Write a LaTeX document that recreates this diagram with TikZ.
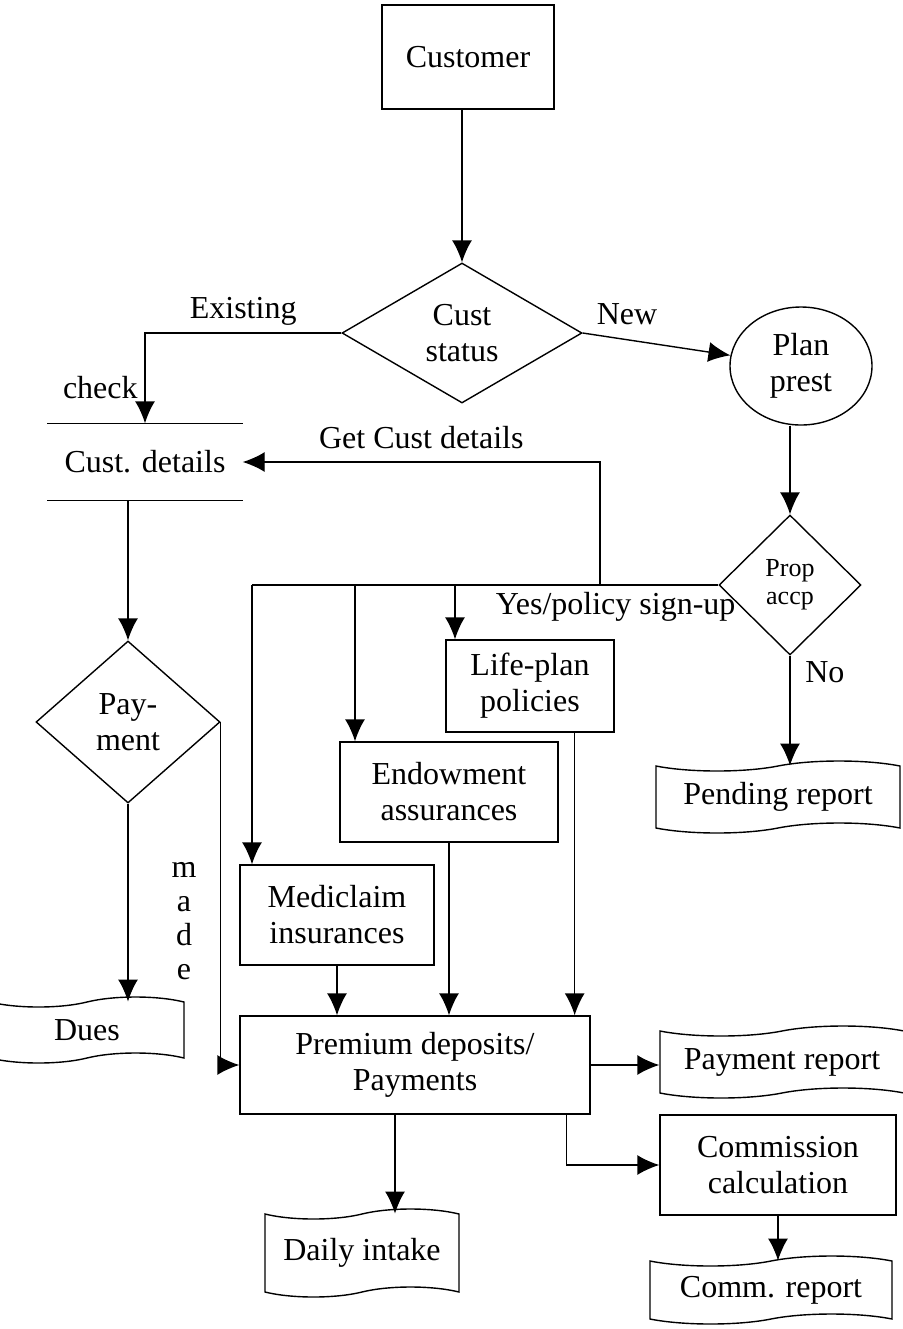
\documentclass[tikz,border=0pt]{standalone}
\usepackage{fontspec}
\setmainfont{Liberation Serif}
\usetikzlibrary{shapes.geometric,shapes.symbols,arrows.meta}

\begin{document}
\begin{tikzpicture}[x=0.5pt,y=-0.5pt,line width=0.7pt]
      \tikzstyle{every node}=[font=\fontsize{16}{18}\selectfont,align=center]
      \tikzstyle{proc}=[draw,rectangle,inner sep=2pt]
      \tikzstyle{decision}=[draw,diamond,inner sep=0pt]
      \tikzstyle{report}=[draw,tape,tape bend height=5pt,inner sep=2pt]
      \tikzstyle{arr}=[-{Latex[length=11pt,width=10pt]}]

      \useasboundingbox (0,0) rectangle (903,1329);

      \node[proc,minimum width=86pt,minimum height=52pt] (customer) at (468,57) {Customer};
      \node[decision,aspect=1.7,minimum width=120pt,minimum height=70pt] (status) at (462,333) {Cust\\status};
      \node[draw,ellipse,minimum width=71pt,minimum height=59pt] (plan) at (801,366) {Plan\\prest};
      \node[decision,minimum width=71pt,minimum height=70pt,font=\fontsize{13}{14}\selectfont] (prop) at (790,585) {Prop\\accp};
      \node[report,minimum width=122pt,minimum height=36pt] (pending) at (778,797) {Pending report};
      \node[minimum width=97pt,minimum height=38pt] (custdet) at (145,462) {Cust. details};
      \node[decision,minimum width=92pt,minimum height=81pt] (payment) at (128,722) {Pay-\\ment};
      \node[report,minimum width=97pt,minimum height=33pt] (dues) at (87,1030) {Dues};
      \node[proc,minimum width=84pt,minimum height=46pt] (lifeplan) at (530,686) {Life-plan\\policies};
      \node[proc,minimum width=109pt,minimum height=50pt] (endow) at (449,792) {Endowment\\assurances};
      \node[proc,minimum width=97pt,minimum height=50pt] (medi) at (337,915) {Mediclaim\\insurances};
      \node[proc,minimum width=175pt,minimum height=49pt] (premium) at (415,1065) {Premium deposits/\\Payments};
      \node[report,minimum width=122pt,minimum height=36pt] (payrep) at (782,1062) {Payment report};
      \node[proc,minimum width=118pt,minimum height=50pt] (comm) at (778,1165) {Commission\\calculation};
      \node[report,minimum width=121pt,minimum height=34pt] (commrep) at (771,1290) {Comm. report};
      \node[report,minimum width=97pt,minimum height=44pt] (daily) at (362,1253) {Daily intake};
      \node[font=\fontsize{16}{17}\selectfont] (made) at (184,921) {m\\a\\d\\e};

      \coordinate (jget) at (600,585);
      \coordinate (jlife) at (455,585);
      \coordinate (jendow) at (355,585);
      \coordinate (jmedi) at (252,585);

      % data store lines
      \draw (custdet.north west) -- (custdet.north east);
      \draw (custdet.south west) -- (custdet.south east);

      \draw[arr] (status.north |- customer.south) -- (status.north);
      \draw[arr] (status.west) -| (custdet.north) node[pos=0.25,above] {Existing} node[pos=0.8,left] {check};
      \draw[arr] (status.east) -- (plan) node[pos=0.3,above=4pt] {New};
      \draw[arr] (prop.north |- plan.south) -- (prop.north);
      \draw[arr] (prop.south) -- (prop.south |- pending.north) node[pos=0.15,right=4pt] {No};

      \draw (prop.west) -- (jmedi) node[pos=0.22,below] {Yes/policy sign-up};
      \draw[arr] (jget) |- (custdet.east) node[pos=0.75,above=3pt] {Get Cust details};
      \draw[arr] (jlife) -- (jlife |- lifeplan.north);
      \draw[arr] (jendow) -- (jendow |- endow.north);
      \draw[arr] (jmedi) -- (jmedi |- medi.north);

      \draw[arr] (payment.north |- custdet.south) -- (payment.north);
      \draw[arr] (payment.south) -- (payment.south |- dues.north);
      \draw[arr] (payment.east) |- (premium.west);

      \draw[arr] (medi.south) -- (medi.south |- premium.north);
      \draw[arr] (endow.south) -- (endow.south |- premium.north);
      \draw[arr] ([xshift=-20pt]lifeplan.south east) -- ([xshift=-20pt]lifeplan.south east |- premium.north);

      \draw[arr] (premium.east) -- (premium.east -| payrep.west);
      \draw[arr] ([xshift=-12pt]premium.south east) |- (comm.west);
      \draw[arr] (comm.south) -- (comm.south |- commrep.north);
      \draw[arr] ([xshift=-10pt]premium.south) -- ([xshift=-10pt]premium.south |- daily.north);
\end{tikzpicture}
\end{document}
